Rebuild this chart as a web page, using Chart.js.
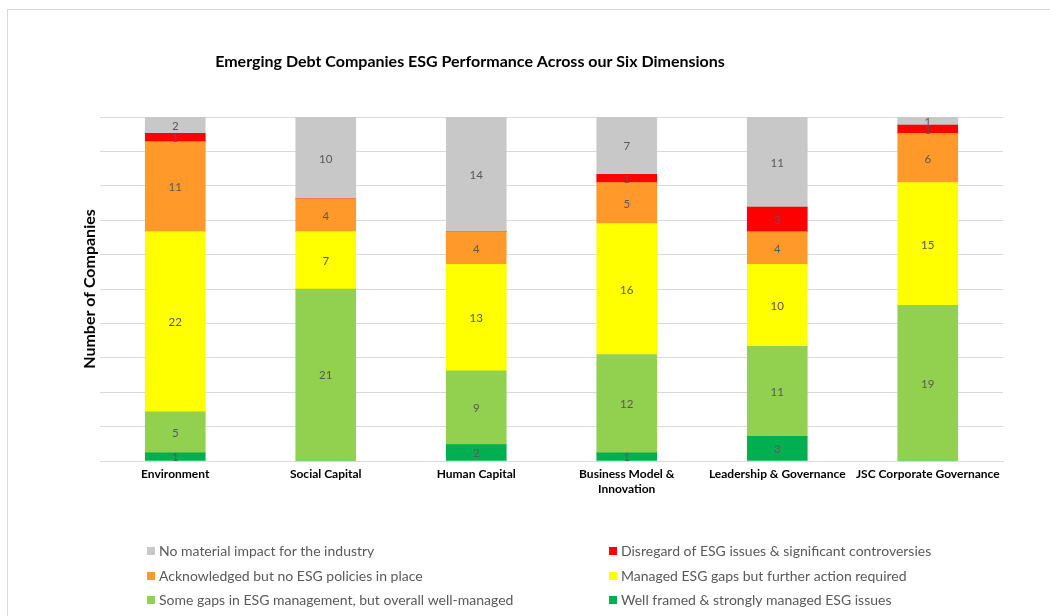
<!DOCTYPE html>
<html>
<head>
<meta charset="utf-8">
<script src="https://cdn.jsdelivr.net/npm/chart.js@4/dist/chart.umd.min.js"></script>
<style>
    html, body { margin: 0; padding: 0; background: #fff; }
    #wrap { width: 1050px; height: 616px; position: relative; }
</style>
</head>
<body>
<div id="wrap"><canvas id="esgChart" width="1050" height="616"></canvas></div>
<script>
// Categories and series (number of companies per dimension)
const categories = [
    'Environment',
    'Social Capital',
    'Human Capital',
    ['Business Model &', 'Innovation'],
    'Leadership & Governance',
    'JSC Corporate Governance'
];

const wellFramed   = [1, 0, 2, 1, 3, 0];
const someGaps     = [5, 21, 9, 12, 11, 19];
const managedGaps  = [22, 7, 13, 16, 10, 15];
const acknowledged = [11, 4, 4, 5, 4, 6];
const disregard    = [1, 0, 0, 1, 3, 1];
const noImpact     = [2, 10, 14, 7, 11, 1];

const yMax = 42;
const yStep = 4.2;

const FONT = 'Lato, "Liberation Sans", sans-serif';
const titleText = 'Emerging Debt Companies ESG Performance Across our Six Dimensions';

// Legend layout: two columns, read row by row
const legendOrder = [5, 4, 3, 2, 1, 0];

// Outer frame + title
const framePlugin = {
    id: 'frame',
    beforeDraw(chart) {
        const ctx = chart.ctx;
        ctx.save();
        ctx.fillStyle = '#fff';
        ctx.fillRect(0, 0, chart.width, chart.height);
        ctx.strokeStyle = '#d9d9d9';
        ctx.lineWidth = 1;
        ctx.strokeRect(7.5, 9.5, chart.width + 20, chart.height + 20);
        ctx.restore();
    },
    afterDraw(chart) {
        const ctx = chart.ctx;
        ctx.save();
        ctx.font = 'bold 16px ' + FONT;
        ctx.fillStyle = '#000';
        ctx.textAlign = 'center';
        ctx.textBaseline = 'middle';
        ctx.fillText(titleText, 470, 62);
        ctx.restore();
    }
};

// Value labels centred in each segment
const segmentLabels = {
    id: 'segmentLabels',
    afterDatasetsDraw(chart) {
        const ctx = chart.ctx;
        ctx.save();
        ctx.font = '11.5px ' + FONT;
        ctx.fillStyle = '#595959';
        ctx.textAlign = 'center';
        ctx.textBaseline = 'middle';
        chart.data.datasets.forEach((ds, di) => {
            const meta = chart.getDatasetMeta(di);
            meta.data.forEach((bar, i) => {
                const v = ds.data[i];
                if (!v) return;
                const p = bar.getProps(['x', 'y', 'base'], true);
                ctx.fillText(String(v), p.x, (p.y + p.base) / 2 + 1);
            });
        });
        ctx.restore();
    }
};

// Two-column legend under the plot
const gridLegend = {
    id: 'gridLegend',
    afterDraw(chart) {
        const ctx = chart.ctx;
        const colX = [147, 609];
        const rowY = [551, 576, 600];
        ctx.save();
        ctx.font = '14px ' + FONT;
        ctx.textBaseline = 'middle';
        ctx.textAlign = 'left';
        legendOrder.forEach((di, k) => {
            const ds = chart.data.datasets[di];
            const x = colX[k % 2];
            const y = rowY[Math.floor(k / 2)];
            ctx.fillStyle = ds.backgroundColor;
            ctx.fillRect(x, y - 4, 8, 8);
            ctx.fillStyle = '#595959';
            ctx.fillText(ds.label, x + 12, y);
        });
        ctx.restore();
    }
};

function series(label, data, color) {
    return {
        label: label,
        data: data,
        backgroundColor: color,
        borderWidth: 0,
        barThickness: 60,
        stack: 'esg'
    };
}

const ctx = document.getElementById('esgChart');
const chart = new Chart(ctx, {
    type: 'bar',
    data: {
        labels: categories,
        datasets: [
            series('Well framed & strongly managed ESG issues', wellFramed, '#00b050'),
            series('Some gaps in ESG management, but overall well-managed', someGaps, '#92d050'),
            series('Managed ESG gaps but further action required', managedGaps, '#ffff00'),
            series('Acknowledged but no ESG policies in place', acknowledged, '#ff9a2a'),
            series('Disregard of ESG issues & significant controversies', disregard, '#ff0000'),
            series('No material impact for the industry', noImpact, '#c8c8c8')
        ]
    },
    options: {
        responsive: false,
        animation: false,
        layout: {
            padding: { top: 117, right: 47, bottom: 115, left: 80 }
        },
        plugins: {
            legend: { display: false },
            title: { display: false },
            tooltip: { enabled: false }
        },
        scales: {
            x: {
                stacked: true,
                grid: { display: false, drawTicks: false },
                border: { display: true, color: '#d9d9d9', width: 1 },
                ticks: {
                    color: '#000',
                    padding: 6,
                    font: { family: FONT, size: 12, weight: 'bold', lineHeight: 1.25 }
                },
                afterFit(scale) { scale.height = 40; }
            },
            y: {
                stacked: true,
                min: 0,
                max: yMax,
                grid: { color: '#d9d9d9', lineWidth: 1, drawTicks: false },
                border: { display: false },
                ticks: { display: false, stepSize: yStep },
                title: {
                    display: true,
                    text: 'Number of Companies',
                    color: '#000',
                    padding: { top: 0, bottom: 0 },
                    font: { family: FONT, size: 16, weight: 'bold' }
                },
                afterFit(scale) { scale.width = 20; }
            }
        }
    },
    plugins: [framePlugin, segmentLabels, gridLegend]
});
</script>
</body>
</html>
